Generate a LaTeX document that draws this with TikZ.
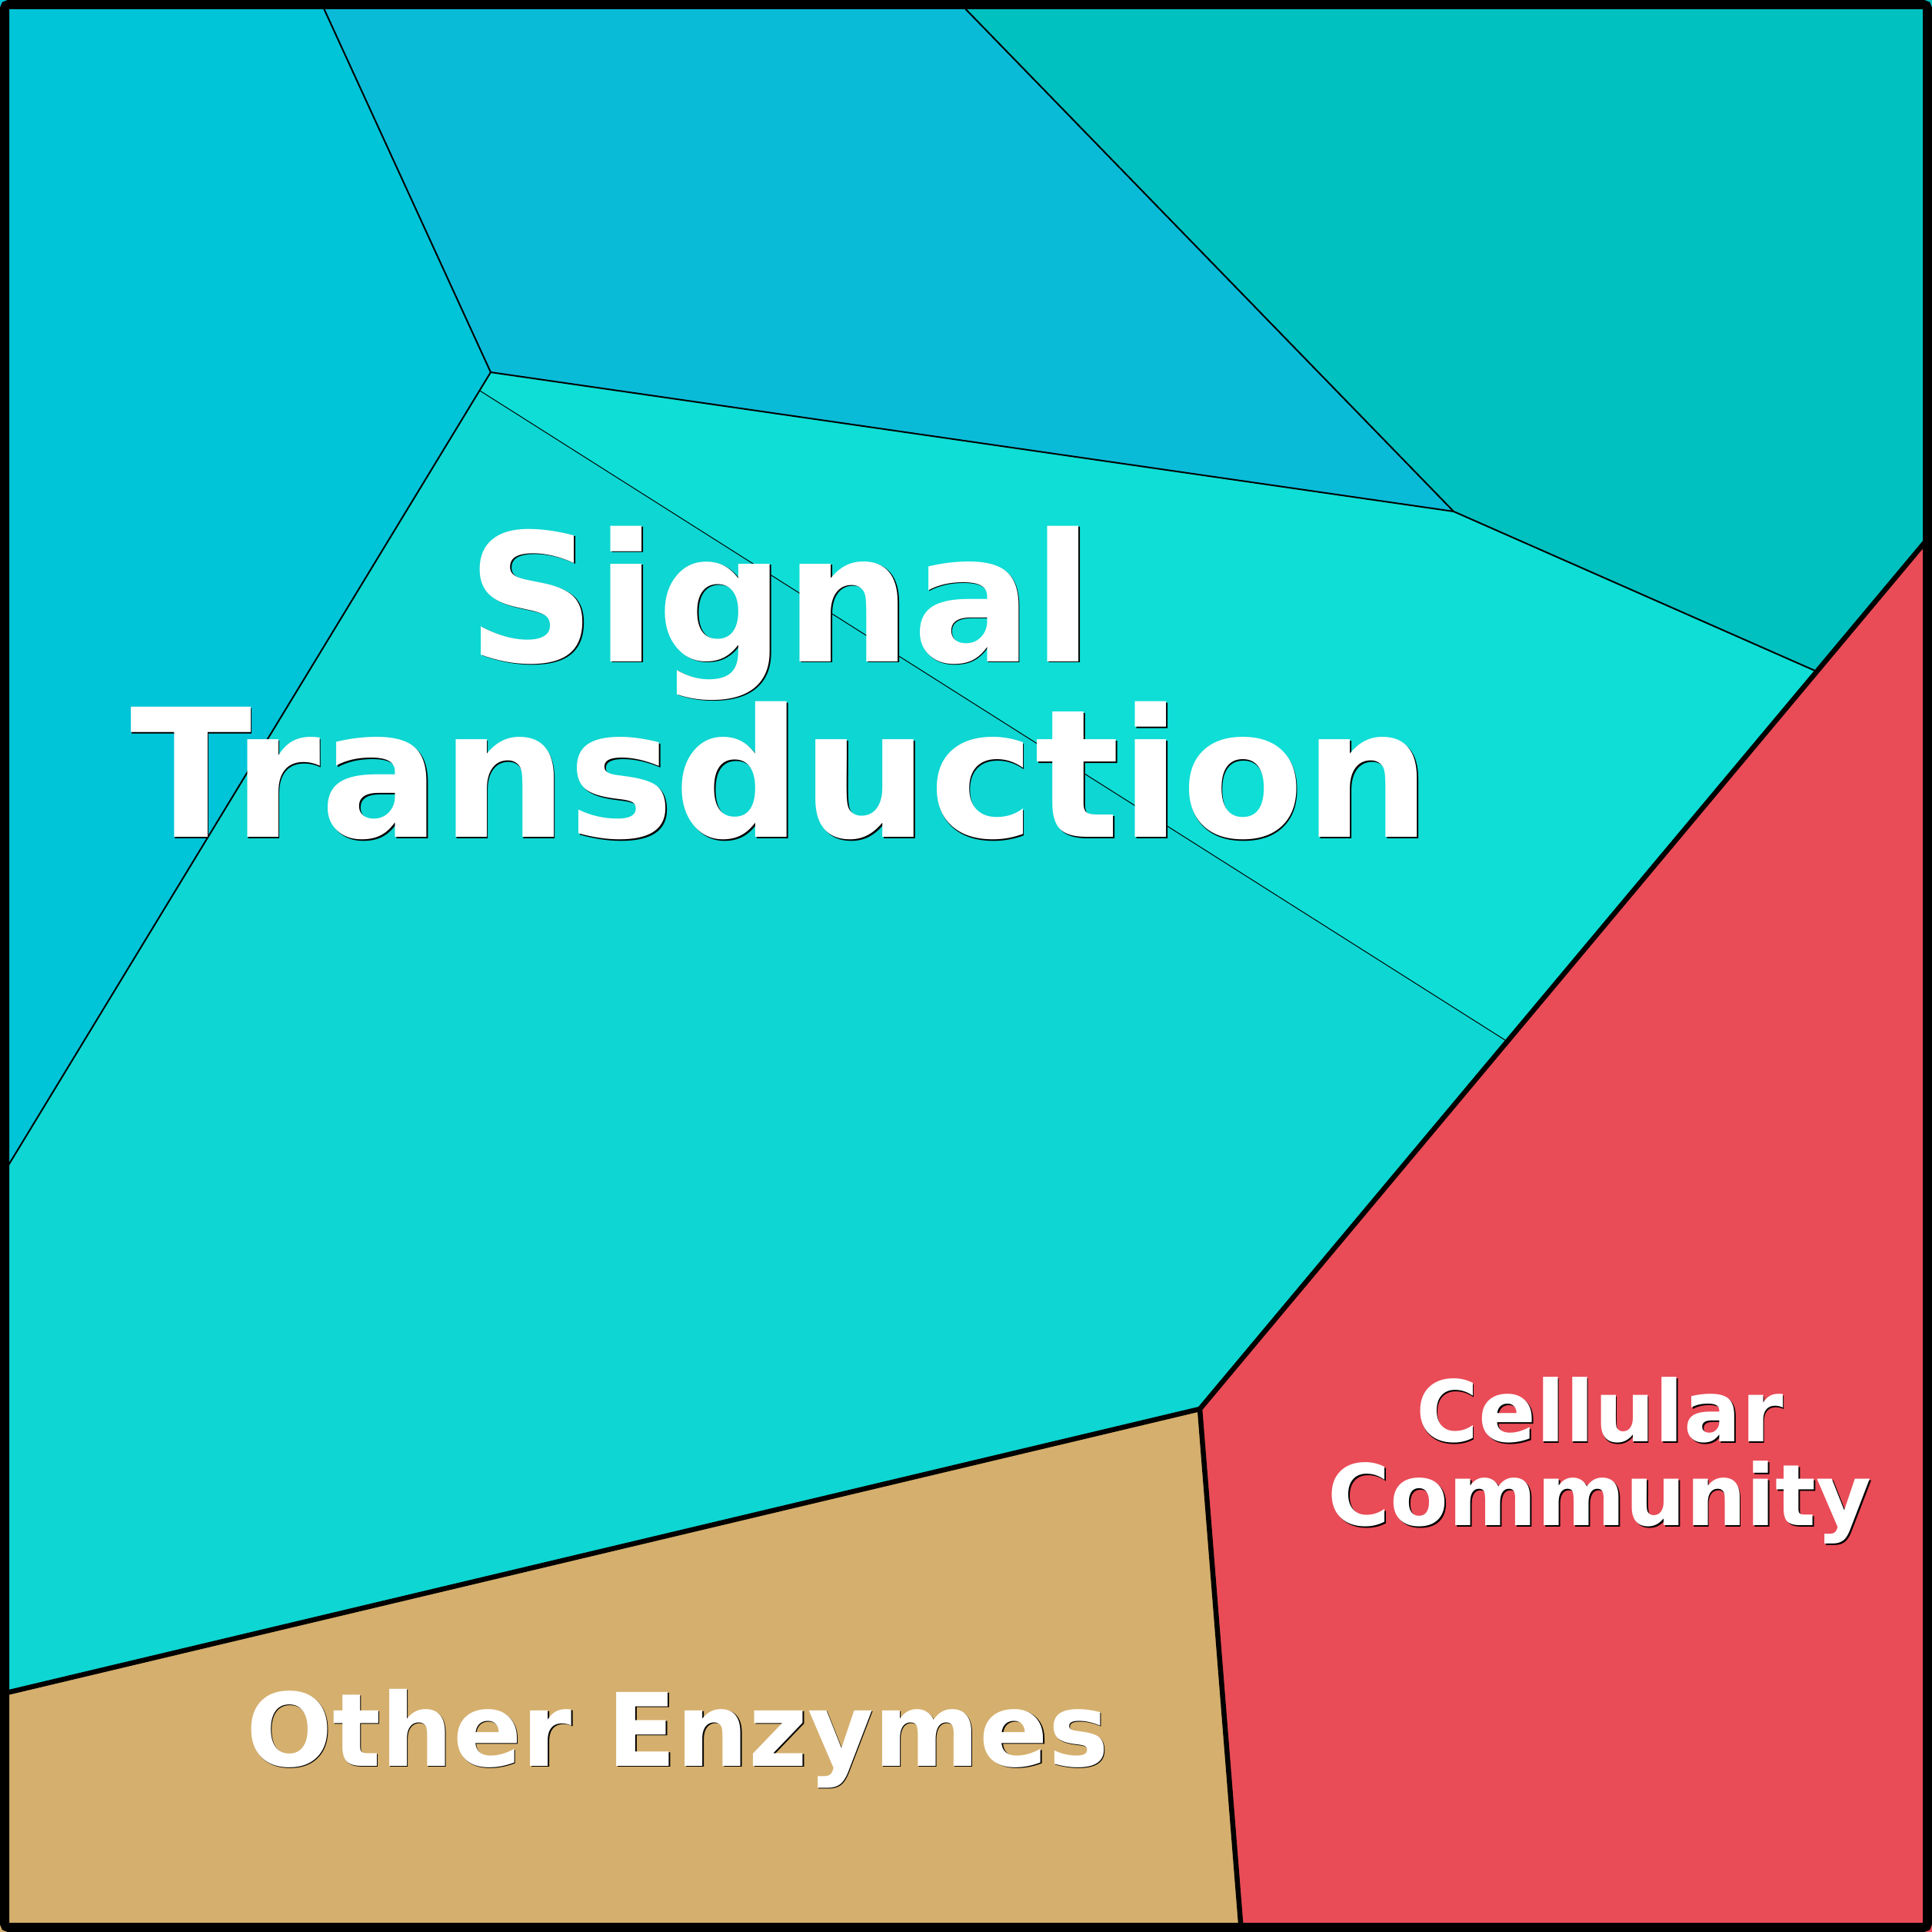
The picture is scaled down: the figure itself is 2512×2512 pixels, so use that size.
\documentclass[tikz,border=0pt]{standalone}
\usepackage{fontspec}
\setsansfont{DejaVu Sans}
\definecolor{westcell}{HTML}{00C4D8}
\definecolor{northcell}{HTML}{0ABBD8}
\definecolor{eastcell}{HTML}{00C0C0}
\definecolor{sigupper}{HTML}{0EDED6}
\definecolor{siglower}{HTML}{0ED6D2}
\definecolor{commcell}{HTML}{E94C57}
\definecolor{enzcell}{HTML}{D5AF6D}
\begin{document}
\begin{tikzpicture}[x=0.01cm,y=-0.01cm,
edge/.style={line width=0.57pt},
fine/.style={line width=0.28pt},
bold/.style={line width=1.85pt,line join=round},
tag/.style={text=white,align=center,inner sep=0pt},
shade/.style={text=black,align=center,inner sep=0pt},
huge/.style={font=\sffamily\bfseries\fontsize{66}{65}\selectfont},
mid/.style={font=\sffamily\bfseries\fontsize{37.5}{37}\selectfont},
small/.style={font=\sffamily\bfseries\fontsize{31.4}{31}\selectfont}]
\useasboundingbox (0,0) rectangle (2512,2512);
\coordinate (p1) at (416,0);
\coordinate (p2) at (1244,0);
\coordinate (a) at (638,484);
\coordinate (a2) at (624,508);
\coordinate (b) at (1890,665);
\coordinate (c) at (2362,873);
\coordinate (r) at (2512,694);
\coordinate (d) at (1958,1353);
\coordinate (e) at (1560,1832);
\coordinate (l1) at (0,1533);
\coordinate (l2) at (0,2203);
\coordinate (f) at (1614,2512);
% cells
\fill[westcell] (0,0) -- (p1) -- (a) -- (l1) -- cycle;
\fill[northcell] (p1) -- (p2) -- (b) -- (a) -- cycle;
\fill[eastcell] (p2) -- (2512,0) -- (r) -- (c) -- (b) -- cycle;
\fill[sigupper] (a) -- (b) -- (c) -- (d) -- (a2) -- cycle;
\fill[siglower] (a2) -- (d) -- (e) -- (l2) -- (l1) -- cycle;
\fill[commcell] (r) -- (2512,2512) -- (f) -- (e) -- cycle;
\fill[enzcell] (l2) -- (e) -- (f) -- (0,2512) -- cycle;
% borders
\draw[edge] (p1) -- (a) -- (l1);
\draw[edge] (a) -- (b) -- (c);
\draw[edge] (p2) -- (b);
\draw[fine] (a2) -- (d);
\draw[bold] (r) -- (e) -- (l2);
\draw[bold] (e) -- (f);
\draw[line width=0.12cm,rounded corners=0.05cm] (6,6) rectangle (2506,2506);
% labels
\node[shade,huge] (signal-s) at (1016.5,889.5) {Signal\\Transduction};
\node[tag,huge] (signal) at (1015,888) {Signal\\Transduction};
\node[shade,small] (comm-s) at (2081.5,1900.5) {Cellular\\Community};
\node[tag,small] (comm) at (2080,1899) {Cellular\\Community};
\node[shade,mid,anchor=base] (enz-s) at (882.5,2297.5) {Other Enzymes};
\node[tag,mid,anchor=base] (enz) at (881,2296) {Other Enzymes};
\end{tikzpicture}
\end{document}
